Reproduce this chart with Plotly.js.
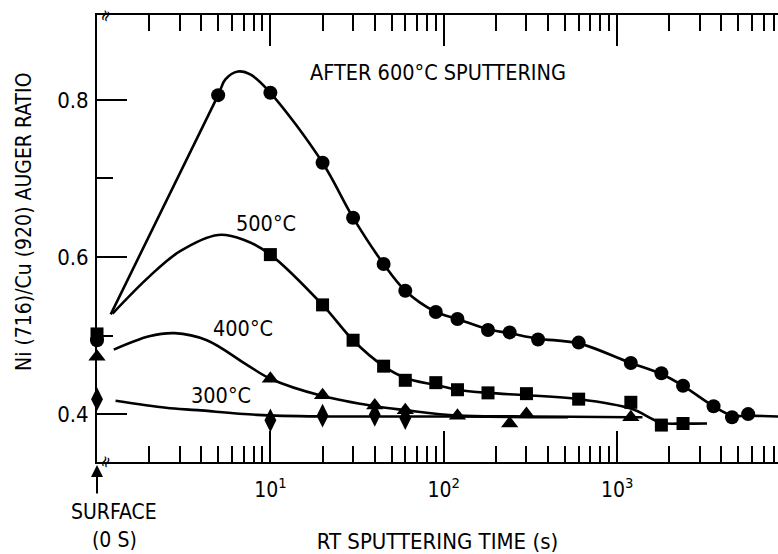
<!DOCTYPE html>
<html>
<head>
<meta charset="utf-8">
<script src="https://cdn.plot.ly/plotly-3.0.1.min.js"></script>
<style>html,body{margin:0;padding:0;background:#fff;}#chart{width:778px;height:554px;}</style>
</head>
<body>
<div id="chart"></div>
<script>
// ---- data (time in s, ratio) ----
// measured points (t = 1 stands for the surface, 0 s, on the broken left axis)
var t600 = [1, 5, 10, 20, 30, 45, 60, 90, 120, 180, 240, 350, 600, 1200, 1800, 2400, 3600, 4600, 5700];
var r600 = [0.494, 0.806, 0.809, 0.720, 0.650, 0.591, 0.557, 0.530, 0.521, 0.507, 0.504, 0.495, 0.491, 0.465, 0.452, 0.436, 0.410, 0.396, 0.400];
var t500 = [1, 10, 20, 30, 45, 60, 90, 120, 180, 300, 600, 1200, 1800, 2400];
var r500 = [0.502, 0.603, 0.539, 0.494, 0.461, 0.443, 0.440, 0.431, 0.427, 0.426, 0.419, 0.415, 0.386, 0.388];
var t400 = [1, 10, 20, 40, 60, 120, 240, 300, 1200];
var r400 = [0.473, 0.445, 0.424, 0.411, 0.405, 0.398, 0.388, 0.400, 0.396];
var t300 = [1, 10, 20, 40, 60];
var r300 = [0.419, 0.392, 0.398, 0.399, 0.395];

// hand-drawn curves
var c600t = [1.2, 5, 5.5, 6.5, 7.7, 10, 20, 30, 45, 60, 90, 120, 180, 240, 350, 600, 1200, 1800, 2400, 3600, 4600, 5700, 8500];
var c600r = [0.527, 0.806, 0.826, 0.836, 0.832, 0.809, 0.720, 0.650, 0.591, 0.557, 0.530, 0.521, 0.508, 0.503, 0.496, 0.490, 0.465, 0.451, 0.436, 0.410, 0.398, 0.398, 0.397];
var c500t = [1.23, 2, 3, 5, 7, 10, 20, 30, 45, 60, 90, 120, 180, 300, 600, 1200, 1800, 2400, 3300];
var c500r = [0.528, 0.575, 0.607, 0.628, 0.622, 0.603, 0.539, 0.494, 0.461, 0.446, 0.437, 0.431, 0.427, 0.424, 0.419, 0.407, 0.389, 0.388, 0.388];
var c400t = [1.25, 2, 2.8, 4.3, 7.4, 10, 20, 40, 60, 120, 300, 1200, 1400];
var c400r = [0.482, 0.499, 0.503, 0.494, 0.462, 0.445, 0.423, 0.410, 0.405, 0.398, 0.397, 0.396, 0.396];
var c300t = [1.28, 2.5, 3.8, 8.4, 20, 40, 60, 120, 300, 520];
var c300r = [0.417, 0.408, 0.405, 0.399, 0.397, 0.397, 0.397, 0.397, 0.396, 0.396];

// tick labels
var xMajor = [10, 100, 1000];
var xMajorText = ['10<sup>1</sup>', '10<sup>2</sup>', '10<sup>3</sup>'];
var xMinor = [2,3,4,5,6,7,8,9,20,30,40,50,60,70,80,90,200,300,400,500,600,700,800,900,2000,3000,4000,5000,6000,7000,8000];
var yMajor = [0.4, 0.6, 0.8];
var yMajorText = ['0.4', '0.6', '0.8'];
var yMinor = [0.5, 0.7];

var FONT = '"DejaVu Sans Condensed", "Liberation Sans Narrow", "DejaVu Sans", sans-serif';

function curve(x, y) {
  return {x: x, y: y, type: 'scatter', mode: 'lines', line: {color: '#000', width: 2.6, shape: 'spline', smoothing: 1}, showlegend: false, hoverinfo: 'skip'};
}
function pts(x, y, sym, size) {
  return {x: x, y: y, type: 'scatter', mode: 'markers', cliponaxis: false, marker: {symbol: sym, size: size, color: '#000'}, showlegend: false};
}

var data = [
  curve(c600t, c600r), curve(c500t, c500r), curve(c400t, c400r), curve(c300t, c300r),
  pts(t300, r300, 'diamond-tall', 17),
  pts(t400, r400, 'triangle-up', 15),
  pts(t600, r600, 'circle', 14),
  pts(t500, r500, 'square', 13)
];

function P(px) { return (px - 97) / 681; }
function Q(py) { return (462 - py) / 447; }
function lab(text, px, py, size, extra) {
  var a = {text: text, x: P(px), y: Q(py), xref: 'paper', yref: 'paper', xanchor: 'center', yanchor: 'middle', showarrow: false, font: {size: size, color: '#000'}};
  if (extra) { for (var k in extra) a[k] = extra[k]; }
  return a;
}

var ann = [
  lab('AFTER 600°C SPUTTERING', 438, 73, 21.5),
  lab('500°C', 266, 224, 21.5),
  lab('400°C', 243, 328, 21.5),
  lab('300°C', 221, 395, 21.5),
  lab('SURFACE', 114, 512, 21),
  lab('(0 S)', 114, 540, 21),
  lab('Ni (716)/Cu (920) AUGER RATIO', 24, 222, 21, {textangle: -90}),
  {text: '', x: P(97), y: Q(465), xref: 'paper', yref: 'paper', showarrow: true, ax: 0, ay: 30, arrowhead: 2, arrowsize: 1.2, arrowwidth: 2, arrowcolor: '#000'},
  lab('≈', 105, 462, 17, {textangle: -70}),
  lab('≈', 105, 16, 17, {textangle: -70})
];

var layout = {
  width: 778, height: 554,
  margin: {l: 97, r: 0, t: 15, b: 92, pad: 0},
  paper_bgcolor: '#fff', plot_bgcolor: '#fff',
  font: {family: FONT, color: '#000', size: 21},
  showlegend: false,
  xaxis: {
    type: 'log', range: [0, 3.928], showgrid: false, zeroline: false,
    showline: true, linecolor: '#000', linewidth: 2, mirror: 'ticks',
    ticks: 'inside', ticklen: 31, tickwidth: 2, tickcolor: '#000',
    tickmode: 'array', tickvals: xMajor, ticktext: xMajorText,
    tickfont: {size: 21}, ticklabelstandoff: 8,
    minor: {tickmode: 'array', tickvals: xMinor, ticks: 'inside', ticklen: 16, tickwidth: 2, tickcolor: '#000', showgrid: false},
    title: {text: 'RT SPUTTERING TIME (s)', font: {size: 22}, standoff: 33}
  },
  yaxis: {
    range: [0.339, 0.908], showgrid: false, zeroline: false,
    showline: true, linecolor: '#000', linewidth: 2, mirror: false,
    ticks: 'inside', ticklen: 30, tickwidth: 2, tickcolor: '#000',
    tickmode: 'array', tickvals: yMajor, ticktext: yMajorText,
    tickfont: {size: 22}, ticklabelstandoff: 2,
    minor: {tickmode: 'array', tickvals: yMinor, ticks: 'inside', ticklen: 16, tickwidth: 2, tickcolor: '#000', showgrid: false}
  },
  yaxis2: {
    overlaying: 'y', side: 'right', anchor: 'x', range: [0.339, 0.908],
    showgrid: false, zeroline: false, showline: false, showticklabels: false,
    ticks: 'inside', ticklen: 20, tickwidth: 2, tickcolor: '#000',
    tickmode: 'array', tickvals: yMajor,
    minor: {tickmode: 'array', tickvals: yMinor, ticks: 'inside', ticklen: 10, tickwidth: 2, tickcolor: '#000', showgrid: false}
  },
  annotations: ann
};

Plotly.newPlot('chart', data, layout, {displayModeBar: false, staticPlot: true});
</script>
</body>
</html>
